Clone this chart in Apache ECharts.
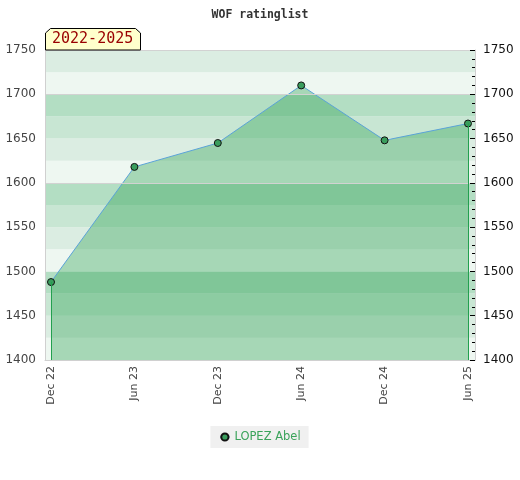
<!DOCTYPE html>
<html><head><meta charset="utf-8">
<script src="https://cdn.jsdelivr.net/npm/echarts@6/dist/echarts.min.js"></script>
<style>html,body{margin:0;padding:0;background:#fff}#c{width:520px;height:480px}</style>
</head><body><div id="c"></div>
<script>
const categories = ['Dec 22','Jun 23','Dec 23','Jun 24','Dec 24','Jun 25'];
const ratings = [1488, 1618, 1645, 1710, 1648, 1667];
const yTicks = [1400, 1450, 1500, 1550, 1600, 1650, 1700, 1750];
const seriesName = 'LOPEZ Abel';
const periodLabel = '2022-2025';

const yMin = yTicks[0], yMax = yTicks[yTicks.length - 1];
const bandColors = ['#eef7f1', '#dbede2', '#c8e6d3', '#b3dec3'];
const bands = [];
for (let v = yMin, k = 0; v < yMax; v += 25, k++) {
  bands.push([{ yAxis: v, itemStyle: { color: bandColors[k % 4], opacity: 1 } }, { yAxis: v + 25 }]);
}
const gridLines = [{ yAxis: 1600 }, { yAxis: 1700 }, { yAxis: yMax }];
const pts = ratings.map((r, i) => [i, r]);
const last = pts.length - 1;

const chart = echarts.init(document.getElementById('c'));
chart.setOption({
  animation: false,
  title: {
    text: 'WOF ratinglist', left: 'center', top: 4,
    textStyle: { fontFamily: 'DejaVu Sans Mono', fontSize: 11.5, fontWeight: 'bold', color: '#333' }
  },
  grid: { left: 45, right: 45, top: 50, bottom: 120 },
  legend: {
    data: [seriesName], left: 'center', top: 426,
    backgroundColor: '#f0f0f0', padding: [5, 8, 5, 9],
    itemWidth: 9, itemHeight: 9, itemGap: 7,
    textStyle: { color: '#3aa35a', fontFamily: 'DejaVu Sans', fontSize: 11.5 }
  },
  xAxis: {
    type: 'value', min: -0.072, max: 5.084, z: 5,
    axisLine: { show: true, onZero: false, lineStyle: { color: '#d0d0d0' } },
    axisTick: { show: false },
    splitLine: { show: false },
    axisLabel: {
      customValues: categories.map((c, i) => i),
      formatter: v => categories[Math.round(v)],
      rotate: 90, margin: 6, color: '#444', fontFamily: 'DejaVu Sans', fontSize: 11
    }
  },
  yAxis: [{
    type: 'value', min: yMin, max: yMax, interval: 50, position: 'left', z: 5,
    axisLine: { show: true, onZero: false, lineStyle: { color: '#d0d0d0' } },
    axisTick: { show: false },
    splitLine: { show: false },
    axisLabel: { color: '#444', margin: 9, fontFamily: 'DejaVu Sans', fontSize: 12, formatter: v => String(v) }
  }, {
    type: 'value', min: yMin, max: yMax, interval: 50, position: 'right', z: 5,
    axisLine: { show: true, onZero: false, lineStyle: { color: '#d0d0d0' } },
    axisTick: { show: true, inside: true, length: 5, lineStyle: { color: '#000' } },
    minorTick: { show: true, splitNumber: 5, length: 3, lineStyle: { color: '#000' } },
    splitLine: { show: false },
    axisLabel: { color: '#111', margin: 8, fontFamily: 'DejaVu Sans', fontSize: 12, formatter: v => String(v) }
  }],
  graphic: [{
    type: 'polygon', z: 100,
    shape: { points: [[45.5, 50], [45.5, 33], [50.5, 28.5], [135.5, 28.5], [140.5, 33], [140.5, 50]] },
    style: { fill: '#ffffcc', stroke: '#000', lineWidth: 1 }
  }, {
    type: 'text', z: 101, left: 52, top: 32,
    style: { text: periodLabel, fill: '#990000', font: '15px "DejaVu Sans Mono"' }
  }],
  series: [{
    name: 'bands', type: 'line', data: [], z: 1, silent: true,
    markArea: { silent: true, data: bands },
    markLine: { silent: true, symbol: 'none', label: { show: false },
      lineStyle: { color: '#d2d2d2', type: 'solid', width: 1 }, data: gridLines }
  }, {
    name: seriesName, type: 'line', data: pts, z: 3,
    symbol: 'circle', symbolSize: 7,
    lineStyle: { color: '#5ba3d8', width: 1 },
    itemStyle: { color: '#3a9d5d', borderColor: '#111', borderWidth: 1 },
    areaStyle: { color: 'rgba(35,155,75,0.5)', origin: 'start' },
    markLine: {
      silent: true, symbol: 'none', label: { show: false },
      lineStyle: { color: '#23a04f', type: 'solid', width: 1, opacity: 1 },
      data: [
        [{ coord: [pts[0][0], yMin] }, { coord: pts[0] }],
        [{ coord: [pts[last][0], yMin] }, { coord: pts[last] }]
      ]
    }
  }]
});
</script></body></html>
